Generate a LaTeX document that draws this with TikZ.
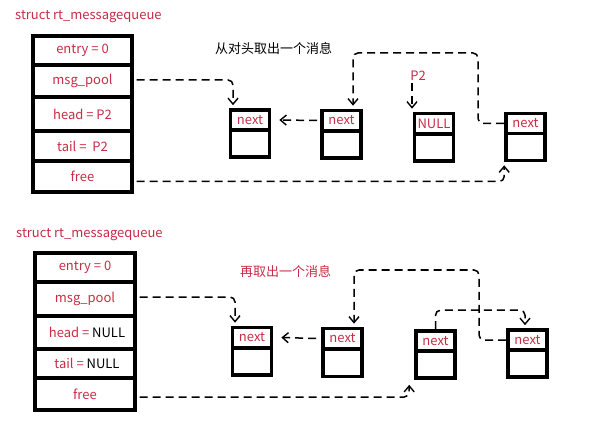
\documentclass[tikz,border=0pt]{standalone}
\usepackage{fontspec}
\setmainfont{Noto Sans CJK SC}
\usetikzlibrary{arrows.meta}
\definecolor{txtred}{RGB}{200,45,70}
\begin{document}
\begin{tikzpicture}[x=1pt,y=-1pt,
  every node/.style={font=\fontsize{13}{15}\selectfont},
  row/.style={draw, line width=3.2pt, minimum width=99pt, inner sep=0pt, text=txtred},
  cella/.style={draw, line width=3.6pt, minimum width=39pt, minimum height=20pt, inner sep=0pt, text=txtred},
  cellb/.style={draw, line width=3.6pt, minimum width=39pt, minimum height=27pt, inner sep=0pt},
  conn/.style={line width=1.5pt, dash pattern=on 8pt off 5pt, rounded corners=5pt, -{Straight Barb[length=6pt,width=10pt,line width=1.4pt]}},
  lbl/.style={inner sep=0pt}
]
\useasboundingbox (0,0) rectangle (596,427);
\fill[white] (0,0) rectangle (596,427);

% ---------- top ----------
\node[lbl, text=txtred, anchor=west] (t1) at (15,17) {struct rt\_messagequeue};
\node[row, minimum height=29pt] (a1) at (82.5,50.5) {entry = 0};
\node[row, minimum height=32pt] (a2) at (82.5,81) {msg\_pool};
\node[row, minimum height=34pt] (a3) at (82.5,114) {head = P2};
\node[row, minimum height=30pt] (a4) at (82.5,146) {tail =~ P2};
\node[row, minimum height=31pt] (a5) at (82.5,176.5) {free};

\node[lbl, anchor=west, font=\fontsize{13}{15}\selectfont] (c1) at (215,48) {从对头取出一个消息};
\node[lbl, text=txtred] (p2) at (418,76) {P2};

\node[cella] (n1a) at (250,120) {next};
\node[cellb] (n1b) at (250,143.5) {};
\node[cella] (n2a) at (341.5,120.5) {next};
\node[cellb] (n2b) at (341.5,144.5) {};
\node[cella] (n3a) at (434,123.5) {NULL};
\node[cellb] (n3b) at (434,147.5) {};
\node[cella] (n4a) at (525.5,123.5) {next};
\node[cellb] (n4b) at (525.5,147) {};

\draw[conn] ([xshift=3pt,yshift=1pt]a2.east) -| ([xshift=-17pt,yshift=3pt]n1a.north);
\draw[conn] ([xshift=-3pt]n2a.west) -- ([xshift=8pt]n1a.east);
\draw[conn] (n4a.west) -| (478,53) -| ([xshift=11.5pt,yshift=3pt]n2a.north);
\coordinate (t3) at ([xshift=-22pt,yshift=3pt]n3a.north);
\draw[conn] ([yshift=-2pt]p2.south -| t3) -- (t3);
\draw[conn] ([xshift=3pt,yshift=-5pt]a5.east) -| ([yshift=-3pt]n4b.south west);

% ---------- bottom ----------
\node[lbl, text=txtred, anchor=west] (t2) at (16,235) {struct rt\_messagequeue};
\node[row, minimum width=100pt, minimum height=29pt] (b1) at (85,267.5) {entry = 0};
\node[row, minimum width=100pt, minimum height=34pt] (b2) at (85,299) {msg\_pool};
\node[row, minimum width=100pt, minimum height=33pt] (b3) at (85,332.5) {\hspace*{4pt}head = \textcolor{black}{NULL}};
\node[row, minimum width=100pt, minimum height=29pt] (b4) at (85,363.5) {\hspace*{4pt}tail = \textcolor{black}{NULL}};
\node[row, minimum width=100pt, minimum height=32pt] (b5) at (85,394) {free};

\node[lbl, anchor=west, text=txtred, font=\fontsize{13}{15}\selectfont] (c2) at (240,272) {再取出一个消息};

\node[cella] (m1a) at (252,337.5) {next};
\node[cellb] (m1b) at (252,361.5) {};
\node[cella] (m2a) at (342.5,338.5) {next};
\node[cellb] (m2b) at (342.5,363) {};
\node[cella] (m3a) at (435.5,341) {next};
\node[cellb] (m3b) at (435.5,364.5) {};
\node[cella] (m4a) at (527.5,340) {next};
\node[cellb] (m4b) at (527.5,363.5) {};

\draw[conn] ([xshift=3pt,yshift=2pt]b2.east) -| ([xshift=-17pt,yshift=3pt]m1a.north);
\draw[conn] ([xshift=-5pt]m2a.west) -- ([xshift=8pt]m1a.east);
\draw[conn] (m4a.west) -| (479,270) -| ([xshift=11.5pt,yshift=3pt]m2a.north);
\draw[conn] (m3a.north) -- ++(0,-19) -| ([xshift=-2.5pt,yshift=3pt]m4a.north);
\draw[conn] ([xshift=3pt,yshift=-3pt]b5.east) -| ([xshift=-5pt,yshift=-5pt]m3b.south west);
\end{tikzpicture}
\end{document}
